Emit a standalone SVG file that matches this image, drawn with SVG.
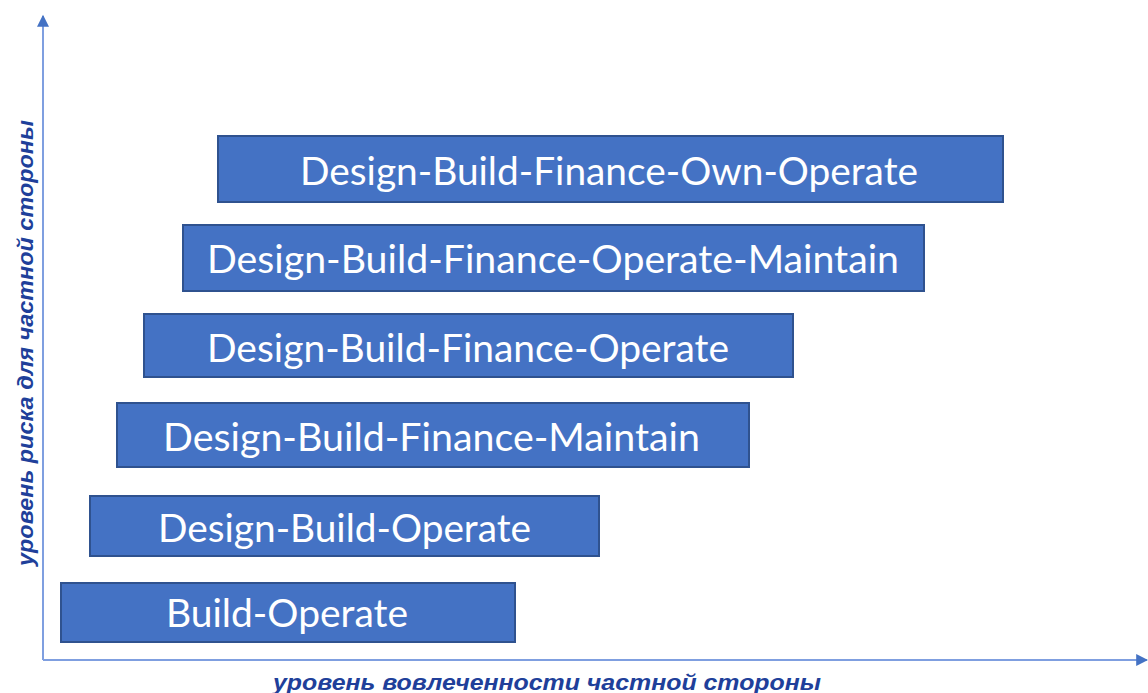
<svg xmlns="http://www.w3.org/2000/svg" width="1148" height="693" viewBox="0 0 1148 693">
  <style>
    .box { fill: #4472c4; stroke: #2f528f; stroke-width: 2; }
    .lbl { fill: #ffffff; font-family: Lato, "Open Sans", "Liberation Sans", sans-serif; font-size: 39px; }
    .axis { stroke: #7f9fe0; stroke-width: 2; fill: none; }
    .atitle { fill: #203f9a; font-family: "Liberation Sans", Arial, sans-serif; font-size: 22px; font-weight: bold; font-style: italic; }
  </style>
  <defs>
    <marker id="arrow" viewBox="0 0 10 10" refX="9" refY="5" markerWidth="13" markerHeight="12" markerUnits="userSpaceOnUse" orient="auto">
      <path d="M0,0 L10,5 L0,10 Z" fill="#4472c4"/>
    </marker>
  </defs>
  <rect width="1148" height="693" fill="#ffffff"/>

  <g id="axes">
    <line class="axis" x1="43" y1="660" x2="43" y2="16" marker-end="url(#arrow)"/>
    <line class="axis" x1="43" y1="660" x2="1147" y2="660" marker-end="url(#arrow)"/>
    <text class="atitle" transform="translate(33,343) rotate(-90)" text-anchor="middle" textLength="446" lengthAdjust="spacingAndGlyphs">уровень риска для частной стороны</text>
    <text class="atitle" x="547" y="690" text-anchor="middle" textLength="548" lengthAdjust="spacingAndGlyphs">уровень вовлеченности частной стороны</text>
  </g>

  <g id="dbfoo">
    <rect class="box" x="218" y="136" width="785" height="66"/>
    <text class="lbl" x="300" y="185" textLength="618" lengthAdjust="spacingAndGlyphs">Design-Build-Finance-Own-Operate</text>
  </g>
  <g id="dbfom">
    <rect class="box" x="183" y="225" width="741" height="66"/>
    <text class="lbl" x="207" y="273" textLength="692" lengthAdjust="spacingAndGlyphs">Design-Build-Finance-Operate-Maintain</text>
  </g>
  <g id="dbfo">
    <rect class="box" x="144" y="314" width="649" height="63"/>
    <text class="lbl" x="207" y="362" textLength="522" lengthAdjust="spacingAndGlyphs">Design-Build-Finance-Operate</text>
  </g>
  <g id="dbfm">
    <rect class="box" x="117" y="403" width="632" height="64"/>
    <text class="lbl" x="163" y="451" textLength="537" lengthAdjust="spacingAndGlyphs">Design-Build-Finance-Maintain</text>
  </g>
  <g id="dbo">
    <rect class="box" x="90" y="496" width="509" height="60"/>
    <text class="lbl" x="158" y="542" textLength="373" lengthAdjust="spacingAndGlyphs">Design-Build-Operate</text>
  </g>
  <g id="bo">
    <rect class="box" x="61" y="583" width="454" height="59"/>
    <text class="lbl" x="166" y="627" textLength="242" lengthAdjust="spacingAndGlyphs">Build-Operate</text>
  </g>
</svg>
